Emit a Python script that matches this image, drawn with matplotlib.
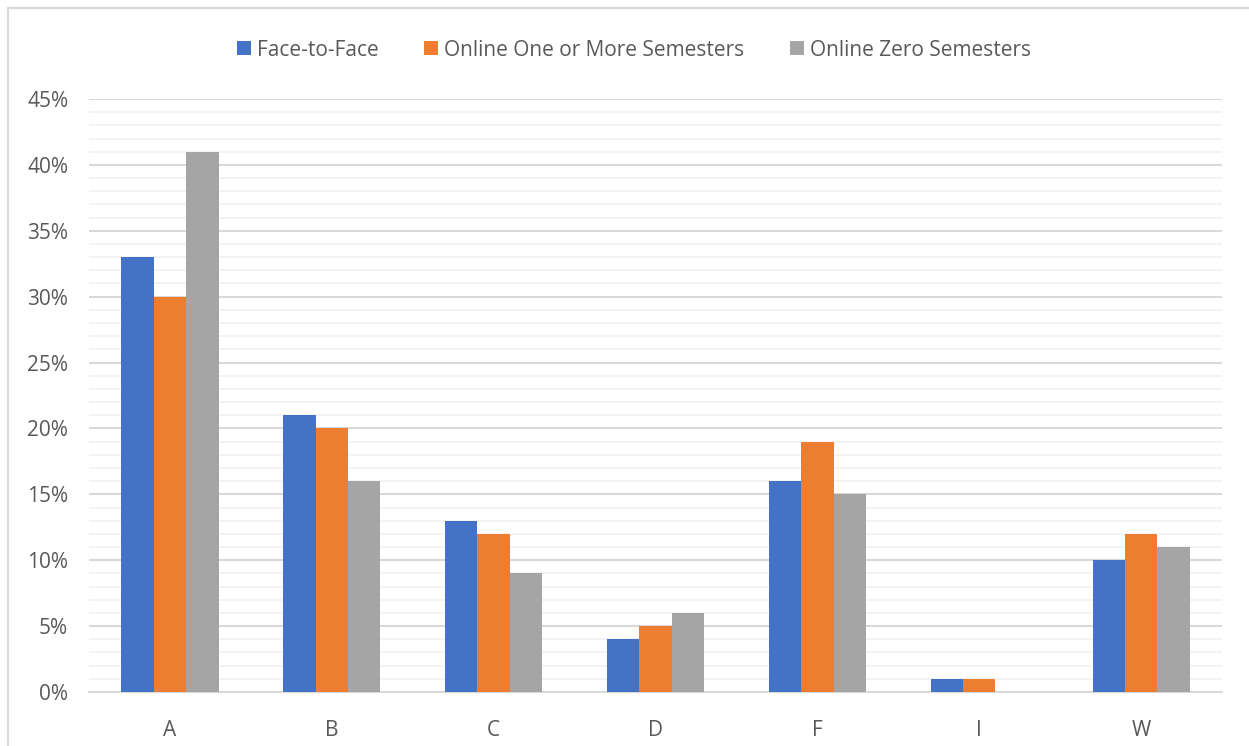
import numpy as np
import matplotlib.pyplot as plt
from matplotlib.patches import Rectangle
from matplotlib.ticker import MultipleLocator, FuncFormatter

## grade categories and the share of students per delivery type
grades = ["A", "B", "C", "D", "F", "I", "W"]
face_to_face = [0.33, 0.21, 0.13, 0.04, 0.16, 0.01, 0.10]
online_one_plus = [0.30, 0.20, 0.12, 0.05, 0.19, 0.01, 0.12]
online_zero = [0.41, 0.16, 0.09, 0.06, 0.15, 0.00, 0.11]
series_names = ["Face-to-Face", "Online One or More Semesters", "Online Zero Semesters"]
colors = ["#4472C4", "#ED7D31", "#A5A5A5"]

plt.rcParams["font.family"] = ["Open Sans", "DejaVu Sans"]
txt = "#595959"

fig = plt.figure(figsize=(12.49, 7.46), dpi=100)
ax = fig.add_axes([0.0713, 0.0724, 0.9071, 0.7949])

#outer chart frame (runs off the right and bottom edge)
fig.patches.append(Rectangle((8 / 1249, -0.05), 1.2, 1 - 8 / 746 + 0.05,
                             transform=fig.transFigure, fill=False,
                             edgecolor="#d9d9d9", linewidth=1.5))

x = np.arange(len(grades))
w = 0.2
all_series = [face_to_face, online_one_plus, online_zero]
for i, vals in enumerate(all_series):
    ax.bar(x + (i - 1) * w, vals, width=w, color=colors[i], label=series_names[i], zorder=3)

ax.set_xlim(-0.5, len(grades) - 0.5)
ax.set_ylim(0, 0.45)
ax.yaxis.set_major_locator(MultipleLocator(0.05))
ax.yaxis.set_minor_locator(MultipleLocator(0.01))
ax.yaxis.set_major_formatter(FuncFormatter(lambda v, p: f"{v * 100:.0f}%"))
ax.grid(axis="y", which="major", color="#d9d9d9", linewidth=1.5, zorder=1)
ax.grid(axis="y", which="minor", color="#f2f2f2", linewidth=1.3, zorder=0)

ax.set_xticks(x)
ax.set_xticklabels(grades)
ax.tick_params(axis="both", which="both", length=0, labelsize=15, colors=txt)
ax.tick_params(axis="x", pad=20)
ax.tick_params(axis="y", pad=15)
for s in ["top", "right", "left"]:
    ax.spines[s].set_visible(False)
ax.spines["bottom"].set_color("#d9d9d9")
ax.spines["bottom"].set_linewidth(1.5)

fig.legend(loc="center", bbox_to_anchor=(0.5076, 1 - 50 / 746), ncol=3, frameon=False,
           fontsize=15, labelcolor=txt, handlelength=0.65, handleheight=0.65,
           handletextpad=0.3, columnspacing=2.2)

fig.savefig("out.png", dpi=100)
